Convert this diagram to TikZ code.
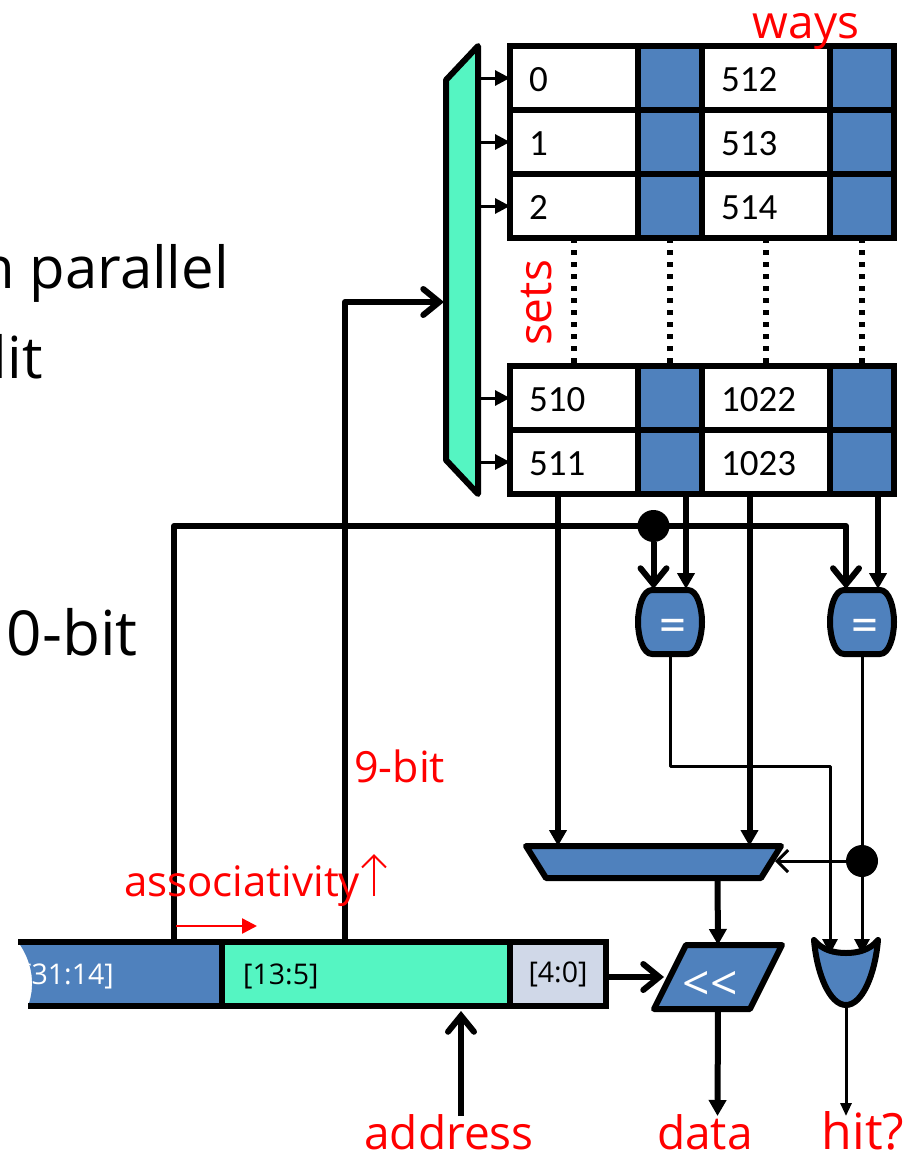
\documentclass[tikz,border=0pt]{standalone}
\usepackage{fontspec}
\setmainfont{Open Sans}
\newfontfamily\cellfont{Carlito}
\usetikzlibrary{arrows.meta}
\definecolor{bluef}{HTML}{4F81BD}
\definecolor{tealf}{HTML}{55F5C2}
\definecolor{paleb}{HTML}{D0D8E8}
\definecolor{redt}{HTML}{FF0000}
\newcommand{\fs}[1]{\fontsize{#1}{#1}\selectfont}
\tikzset{
  cellbox/.style={draw=black,line width=6,minimum width=128,minimum height=64,inner sep=0,outer sep=0,fill=white},
  celllab/.style={inner sep=0,outer sep=0,anchor=west,font=\cellfont\fs{37}},
  tagcell/.style={draw=black,line width=6,minimum width=64,minimum height=64,inner sep=0,outer sep=0,fill=bluef},
  fieldbox/.style={draw=black,line width=6,inner sep=0,outer sep=0,minimum height=64,font=\fs{28.5}},
  redlab/.style={text=redt,font=\fs{42},inner sep=0},
  redbig/.style={text=redt,font=\fs{46},inner sep=0},
  bigtxt/.style={text=black,font=\fs{58},inner sep=0,anchor=base east},
  shape line/.style={draw=black,line width=6,line join=round},
  heavy/.style={draw=black,line width=6},
  thin wire/.style={draw=black,line width=3},
  tri/.style={-{Triangle[length=16,width=17]}},
  smalltri/.style={-{Triangle[length=15,width=15]}},
  barb/.style={-{Straight Barb[length=16,width=26,line cap=round,line join=miter]}},
  thinbarb/.style={-{Straight Barb[length=11,width=22]}},
  dotline/.style={draw=black,line width=5.5,dash pattern=on 5 off 7},
  junction/.style={circle,fill=black,minimum size=32,inner sep=0,outer sep=0},
  gatetxt/.style={inner sep=0,outer sep=0,text=white},
}
\begin{document}
\begin{tikzpicture}[x=1pt,y=-1pt]
\useasboundingbox (0,0) rectangle (914,1151);
\clip (0,0) rectangle (914,1151);

% clipped slide text
\node[bigtxt] (t1) at (229,288) {n parallel};
\node[bigtxt] (t2) at (43,378) {lit};
\node[bigtxt,font=\fs{62}] (t3) at (138,655) {10-bit};

% anchors for wires
\coordinate (sel) at (444,302);
\coordinate (corner1) at (345,302);
\coordinate (tagA) at (174,526);
\coordinate (tagB) at (846,526);

% decoder
\filldraw[fill=tealf,shape line] (446,80) -- (478,46) -- (478,494) -- (446,460) -- cycle;
\coordinate (decR) at (480,0);

% cache cells
\foreach \n/\y/\a/\b in {0/78/0/512,1/142/1/513,2/206/2/514,3/398/510/1022,4/462/511/1023}{
  \node[cellbox] (a\n) at (574,\y) {};
  \node[celllab] (al\n) at ([xshift=19pt,yshift=-1.5pt]a\n.west) {\a};
  \node[tagcell] (b\n) at (670,\y) {};
  \node[cellbox] (c\n) at (766,\y) {};
  \node[celllab] (cl\n) at ([xshift=19pt,yshift=-1.5pt]c\n.west) {\b};
  \node[tagcell] (d\n) at (862,\y) {};
  \coordinate (dec\n) at (decR|-a\n);
  \draw[thin wire,smalltri] (dec\n) -- (a\n.west);
}
\foreach \k in {a,b,c,d}{
  \draw[dotline] (\k2.south) -- (\k3.north);
}

% comparators
\begin{scope}[shift={(670,622)}]
  \filldraw[fill=bluef,shape line] (-18,-32) -- (18,-32) .. controls (27,-32) and (32,-15) .. (32,0) .. controls (32,15) and (27,32) .. (18,32) -- (-18,32) .. controls (-27,32) and (-32,15) .. (-32,0) .. controls (-32,-15) and (-27,-32) .. (-18,-32) -- cycle;
  \node[gatetxt,minimum width=64,minimum height=64] (eq1) at (0,0) {};
  \node[gatetxt,font=\cellfont\fs{54}] (eq1t) at (3,9) {=};
\end{scope}
\begin{scope}[shift={(862,622)}]
  \filldraw[fill=bluef,shape line] (-18,-32) -- (18,-32) .. controls (27,-32) and (32,-15) .. (32,0) .. controls (32,15) and (27,32) .. (18,32) -- (-18,32) .. controls (-27,32) and (-32,15) .. (-32,0) .. controls (-32,-15) and (-27,-32) .. (-18,-32) -- cycle;
  \node[gatetxt,minimum width=64,minimum height=64] (eq2) at (0,0) {};
  \node[gatetxt,font=\cellfont\fs{54}] (eq2t) at (3,9) {=};
\end{scope}

% way mux
\filldraw[fill=bluef,shape line] (526,846) -- (781,846) -- (761,878) -- (546,878) -- cycle;
\node[inner sep=0,outer sep=0,minimum width=235,minimum height=32] (wmux) at (653.5,862) {};
\coordinate (wmuxR) at (775,861);

% shifter
\filldraw[fill=bluef,shape line] (686,945) -- (782,945) -- (750,1009) -- (654,1009) -- cycle;
\node[gatetxt,font=\fs{48}] (shift) at (710,986) {<{}<};
\coordinate (shiftT) at (718,945);
\coordinate (shiftB) at (718,1009);
\coordinate (shiftL) at (664,977);

% OR gate
\filldraw[fill=bluef,shape line] (814,940) .. controls (817,975) and (830,1005) .. (846,1005) .. controls (862,1005) and (875,975) .. (878,940) .. controls (870,950) and (858,953) .. (846,953) .. controls (834,953) and (822,950) .. (814,940) -- cycle;
\coordinate (orB) at (846,1006);
\coordinate (orL) at (830,954);
\coordinate (orR) at (862,954);

% address register
\fill[bluef] (18,942) .. controls (30,958) and (37,982) .. (28,1006) -- (222,1006) -- (222,942) -- cycle;
\begin{scope}
  \clip (18,942) .. controls (30,958) and (37,982) .. (28,1006) -- (222,1006) -- (222,942) -- cycle;
  \node[anchor=west,inner sep=0,text=white,font=\fs{28.5}] (f1) at (22,976) {[31:14]};
\end{scope}
\draw[black,line width=6] (18,942) -- (222,942) -- (222,1006) -- (28,1006);
\node[fieldbox,fill=tealf,minimum width=288] (f2) at (366,974) {};
\node[anchor=west,inner sep=0,font=\fs{28.5}] (f2t) at (243,976) {[13:5]};
\node[fieldbox,fill=paleb,minimum width=96] (f3) at (558,974) {[4:0]};

% wires
\coordinate (f1top) at (174,942);
\coordinate (f2top) at (345,942);
\draw[heavy,line join=round,barb] (f2top) -- (corner1) -- (sel);
\draw[heavy,line join=round,barb] (f1top) -- (tagA) -- (tagB) -- (846,589);
\node[junction] (j1) at (653.5,526) {};
\draw[heavy,barb] (j1) -- (653.5,589);
\draw[heavy,tri] (b4.south-|686,0) -- (686,589);
\draw[heavy,tri] (878,494) -- (878,589);
\draw[heavy,tri] (558,494) -- (558,846);
\draw[heavy,tri] (749.5,494) -- (749.5,846);
\draw[thin wire,line join=round,smalltri] (670,654) -- (670,766) -- (830,766) -- (orL);
\draw[thin wire,smalltri] (862,654) -- (orR);
\node[junction] (j2) at (862,861) {};
\draw[thin wire,thinbarb] (j2) -- (wmuxR);
\draw[heavy,tri] (717.5,878) -- (shiftT);
\draw[heavy,barb] (f3.east) ++(0,3) -- (shiftL);
\draw[heavy,tri] (shiftB) -- (717.5,1116);
\draw[thin wire,-{Triangle[length=13,width=11]}] (orB) -- (846,1116);
\coordinate (addrT) at (461,1011);
\coordinate (addrB) at (461,1116);
\draw[heavy,barb] (addrB) -- (addrT);

% red labels
\coordinate (rs) at (176,926);
\coordinate (re) at (257,926);
\draw[redt,line width=2.5,-{Triangle[length=15,width=15]}] (rs) -- (re);
\node[redlab,anchor=base west] (assoc) at (124,896) {associativity};
\coordinate (ua) at (374,896);
\coordinate (ub) at (374,854);
\draw[redt,line width=2,-{Straight Barb[length=12,width=24]}] (ua) -- (ub);
\node[redlab,font=\fs{43},anchor=base west] (nine) at (354,782) {9-bit};
\node[redbig,rotate=90,anchor=base] (sets) at (551,303) {sets};
\node[redbig,anchor=base] (ways) at (806,38) {ways};
\node[redbig,anchor=base] (addr) at (449,1149) {address};
\node[redbig,anchor=base] (data) at (705,1149) {data};
\node[redbig,font=\fs{50},anchor=base] (hit) at (863,1149) {hit?};
\end{tikzpicture}
\end{document}
